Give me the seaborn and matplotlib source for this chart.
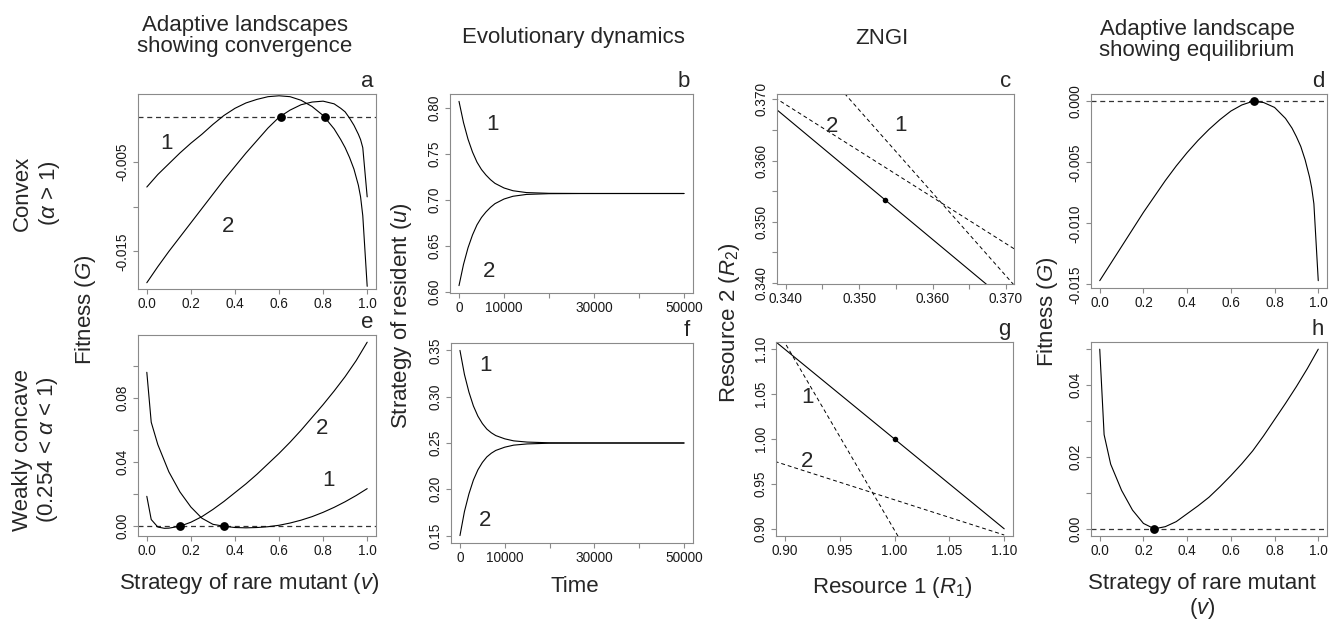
import matplotlib
matplotlib.use("Agg")
import matplotlib.pyplot as plt
import seaborn as sns

# ---------------- data ----------------
# Panel a: convex, adaptive landscapes (mutant strategy v vs fitness G)
a_v = [0.00, 0.05, 0.10, 0.15, 0.20, 0.25, 0.30, 0.35, 0.40, 0.45, 0.50, 0.55,
       0.60, 0.65, 0.70, 0.75, 0.80, 0.85, 0.88, 0.90, 0.92, 0.94, 0.96, 0.97,
       0.98, 1.00]
a_g1 = [-0.0078, -0.0064, -0.0052, -0.0040, -0.0029, -0.0019, -0.0008, 0.0002,
        0.0010, 0.0016, 0.0020, 0.0023, 0.0024, 0.0023, 0.0019, 0.0012, 0.0002,
        -0.0013, -0.0025, -0.0034, -0.0045, -0.0058, -0.0076, -0.0089, -0.0110,
        -0.0189]
a_g2 = [-0.0185, -0.0167, -0.0150, -0.0134, -0.0118, -0.0102, -0.0086, -0.0070,
        -0.0055, -0.0040, -0.0026, -0.0012, 0.0000, 0.0008, 0.0014, 0.0017, 0.0018,
        0.0015, 0.0010, 0.0006, -0.0001, -0.0009, -0.0019, -0.0025, -0.0034,
        -0.0089]
a_dots_v = [0.607, 0.807]
a_dots_g = [0.0, 0.0]

# Panels b and f: evolutionary dynamics (time vs resident strategy u)
t_steps = [0, 1000, 2000, 3000, 4000, 5000, 6000, 7000, 8000, 10000, 12000,
           15000, 20000, 30000, 50000]
b_u1 = [0.807, 0.784, 0.766, 0.752, 0.741, 0.733, 0.727, 0.722, 0.718, 0.713,
        0.710, 0.708, 0.7072, 0.707, 0.707]
b_u2 = [0.607, 0.630, 0.648, 0.662, 0.673, 0.681, 0.687, 0.692, 0.696, 0.701,
        0.704, 0.706, 0.7068, 0.707, 0.707]
f_u1 = [0.350, 0.324, 0.305, 0.290, 0.279, 0.271, 0.265, 0.261, 0.258, 0.2545,
        0.2523, 0.251, 0.2502, 0.250, 0.250]
f_u2 = [0.150, 0.176, 0.195, 0.210, 0.221, 0.229, 0.235, 0.239, 0.242, 0.2455,
        0.2477, 0.249, 0.2498, 0.250, 0.250]

# Panel c: ZNGI, convex case (R1 vs R2)
c_solid_r1 = [0.3380, 0.3700]
c_solid_r2 = [0.3691, 0.3371]
c_zngi1_r1 = [0.3480, 0.3712]
c_zngi1_r2 = [0.3710, 0.3395]
c_zngi2_r1 = [0.3385, 0.3712]
c_zngi2_r2 = [0.3703, 0.3455]
c_dot_r1 = [0.3535]
c_dot_r2 = [0.3535]

# Panel d: adaptive landscape at equilibrium, convex case
d_v = [0.00, 0.05, 0.10, 0.15, 0.20, 0.25, 0.30, 0.35, 0.40, 0.45, 0.50, 0.55,
       0.60, 0.65, 0.70, 0.75, 0.80, 0.85, 0.88, 0.90, 0.92, 0.94, 0.96, 0.97,
       0.98, 1.00]
d_g = [-0.0147, -0.0133, -0.0119, -0.0105, -0.0091, -0.0078, -0.0065, -0.0053,
       -0.0042, -0.0032, -0.0023, -0.0015, -0.0008, -0.0003, 0.0000, -0.0001,
       -0.0005, -0.0014, -0.0022, -0.0029, -0.0037, -0.0048, -0.0062, -0.0071,
       -0.0084, -0.0147]
d_dot_v = [0.707]
d_dot_g = [0.0]

# Panel e: weakly concave, adaptive landscapes
e_v1 = [0.00, 0.02, 0.05, 0.10, 0.15, 0.20, 0.25, 0.30, 0.35, 0.40, 0.45, 0.50,
        0.55, 0.60, 0.65, 0.70, 0.75, 0.80, 0.85, 0.90, 0.95, 1.00]
e_g1 = [0.0962, 0.0650, 0.0510, 0.0340, 0.0215, 0.0120, 0.0050, 0.0012, 0.0000,
        -0.0008, -0.0010, -0.0008, -0.0003, 0.0006, 0.0020, 0.0038, 0.0060,
        0.0087, 0.0118, 0.0153, 0.0192, 0.0235]
e_v2 = [0.00, 0.02, 0.05, 0.08, 0.10, 0.15, 0.20, 0.25, 0.30, 0.35, 0.40, 0.45,
        0.50, 0.55, 0.60, 0.65, 0.70, 0.75, 0.80, 0.85, 0.90, 0.95, 1.00]
e_g2 = [0.0187, 0.0042, -0.0005, -0.0013, -0.0012, 0.0000, 0.0025, 0.0060,
        0.0105, 0.0155, 0.0210, 0.0265, 0.0325, 0.0390, 0.0455, 0.0525, 0.0600,
        0.0680, 0.0760, 0.0845, 0.0935, 0.1035, 0.1150]
e_dots_v = [0.15, 0.35]
e_dots_g = [0.0, 0.0]

# Panel g: ZNGI, weakly concave case
g_solid_r1 = [0.88, 1.10]
g_solid_r2 = [1.12, 0.90]
g_zngi1_r1 = [0.895, 1.005]
g_zngi1_r2 = [1.1178, 0.8880]
g_zngi2_r1 = [0.885, 1.100]
g_zngi2_r2 = [0.9774, 0.8931]
g_dot_r1 = [1.00]
g_dot_r2 = [1.00]

# Panel h: adaptive landscape at equilibrium, weakly concave case
h_v = [0.00, 0.02, 0.05, 0.10, 0.15, 0.20, 0.25, 0.30, 0.35, 0.40, 0.45, 0.50,
       0.55, 0.60, 0.65, 0.70, 0.75, 0.80, 0.85, 0.90, 0.95, 1.00]
h_g = [0.0500, 0.0262, 0.0180, 0.0107, 0.0052, 0.0015, 0.0000, 0.0006, 0.0020,
       0.0042, 0.0064, 0.0088, 0.0117, 0.0148, 0.0181, 0.0217, 0.0259, 0.0304,
       0.0349, 0.0396, 0.0446, 0.0500]
h_dot_v = [0.25]
h_dot_g = [0.0]

zero_level = 0.0

# ---------------- style ----------------
sns.set_theme(style="ticks")
plt.rcParams['font.family'] = ['Liberation Sans', 'DejaVu Sans']
plt.rcParams['mathtext.fontset'] = 'custom'
plt.rcParams['mathtext.rm'] = 'Liberation Sans'
plt.rcParams['mathtext.it'] = 'Liberation Sans:italic'
plt.rcParams['mathtext.bf'] = 'Liberation Sans:bold'

W, H = 1339, 621
fig = plt.figure(figsize=(W / 100, H / 100), dpi=100)
fig.patch.set_facecolor('white')

SPINE = '#8a8a8a'
LW = 0.8
FS_BIG = 16
FS_TICK = 9.8


def add_ax(l, t, r, b):
    return fig.add_axes([l / W, 1 - b / H, (r - l) / W, (b - t) / H])


def style(ax, xlim, ylim, xt, xtl, yt, ytl, letter):
    ax.set_xlim(*xlim)
    ax.set_ylim(*ylim)
    ax.set_xticks(xt)
    ax.set_xticklabels(xtl)
    ax.set_yticks(yt)
    ax.set_yticklabels(ytl, rotation=90, va='center')
    for s in ax.spines.values():
        s.set_visible(True)
        s.set_color(SPINE)
        s.set_linewidth(0.8)
    ax.tick_params(direction='out', length=3.5, width=0.8, color=SPINE,
                   labelsize=FS_TICK, labelcolor='#1a1a1a', pad=2.5)
    ax.set_xlabel('')
    ax.set_ylabel('')
    ax.grid(False)
    ax.set_facecolor('white')
    ax.annotate(letter, xy=(1, 1), xycoords='axes fraction', xytext=(-2, 5),
                textcoords='offset points', ha='right', va='baseline',
                fontsize=FS_BIG)


def curve(ax, x, y, dashed=False, lw=LW):
    kw = dict(color='black', lw=lw, estimator=None, sort=False, ax=ax)
    if dashed:
        kw['linestyle'] = (0, (4, 3))
    sns.lineplot(x=x, y=y, **kw)


def dots(ax, x, y, s):
    sns.scatterplot(x=x, y=y, ax=ax, color='black', s=s, edgecolor='black',
                    linewidth=0, zorder=5)


def zero(ax):
    ax.axhline(zero_level, color='#333333', lw=0.9, linestyle=(0, (4, 3)),
               zorder=1)


def lab(ax, x, y, s):
    ax.text(x, y, s, ha='center', va='center', fontsize=FS_BIG)


v_ticks = [0.0, 0.2, 0.4, 0.6, 0.8, 1.0]
v_tl = ['0.0', '0.2', '0.4', '0.6', '0.8', '1.0']
t_ticks = [0, 10000, 20000, 30000, 40000, 50000]
t_tl = ['0', '10000', '', '30000', '', '50000']

# ---- a ----
ax = add_ax(138, 94, 376, 289)
zero(ax)
curve(ax, a_v, a_g1)
curve(ax, a_v, a_g2)
dots(ax, a_dots_v, a_dots_g, 40)
lab(ax, 0.09, -0.0029, '1')
lab(ax, 0.367, -0.0122, '2')
style(ax, (-0.04, 1.04), (-0.0192, 0.0026), v_ticks, v_tl,
      [-0.015, -0.010, -0.005], ['-0.015', '', '-0.005'], 'a')

# ---- b ----
ax = add_ax(450, 94, 693, 293)
curve(ax, t_steps, b_u1)
curve(ax, t_steps, b_u2)
lab(ax, 7500, 0.782, '1')
lab(ax, 6700, 0.622, '2')
style(ax, (-2000, 52000), (0.599, 0.815), t_ticks, t_tl,
      [0.60, 0.65, 0.70, 0.75, 0.80], ['0.60', '0.65', '0.70', '0.75', '0.80'], 'b')

# ---- c ----
ax = add_ax(777, 94, 1014, 284)
curve(ax, c_solid_r1, c_solid_r2)
curve(ax, c_zngi1_r1, c_zngi1_r2, dashed=True, lw=0.7)
curve(ax, c_zngi2_r1, c_zngi2_r2, dashed=True, lw=0.7)
dots(ax, c_dot_r1, c_dot_r2, 16)
lab(ax, 0.3463, 0.3656, '2')
lab(ax, 0.3556, 0.3657, '1')
zt = [0.340, 0.345, 0.350, 0.355, 0.360, 0.365, 0.370]
ztl = ['0.340', '', '0.350', '', '0.360', '', '0.370']
style(ax, (0.3388, 0.3711), (0.3398, 0.3709), zt, ztl, zt, ztl, 'c')

# ---- d ----
ax = add_ax(1091, 94, 1327, 288)
zero(ax)
curve(ax, d_v, d_g)
dots(ax, d_dot_v, d_dot_g, 40)
style(ax, (-0.04, 1.04), (-0.0153, 0.0006), v_ticks, v_tl,
      [-0.015, -0.010, -0.005, 0.000], ['-0.015', '-0.010', '-0.005', '0.000'], 'd')

# ---- e ----
ax = add_ax(138, 335, 376, 536)
zero(ax)
curve(ax, e_v1, e_g1)
curve(ax, e_v2, e_g2)
dots(ax, e_dots_v, e_dots_g, 40)
lab(ax, 0.795, 0.061, '2')
lab(ax, 0.825, 0.0287, '1')
style(ax, (-0.04, 1.04), (-0.0061, 0.1195), v_ticks, v_tl,
      [0.00, 0.02, 0.04, 0.06, 0.08, 0.10], ['0.00', '', '0.04', '', '0.08', ''], 'e')

# ---- f ----
ax = add_ax(451, 343, 693, 543)
curve(ax, t_steps, f_u1)
curve(ax, t_steps, f_u2)
lab(ax, 5600, 0.334, '1')
lab(ax, 5600, 0.166, '2')
style(ax, (-2000, 52000), (0.142, 0.358), t_ticks, t_tl,
      [0.15, 0.20, 0.25, 0.30, 0.35], ['0.15', '0.20', '0.25', '0.30', '0.35'], 'f')

# ---- g ----
ax = add_ax(776, 342, 1013, 536)
curve(ax, g_solid_r1, g_solid_r2)
curve(ax, g_zngi1_r1, g_zngi1_r2, dashed=True, lw=0.7)
curve(ax, g_zngi2_r1, g_zngi2_r2, dashed=True, lw=0.7)
dots(ax, g_dot_r1, g_dot_r2, 16)
lab(ax, 0.9205, 1.0467, '1')
lab(ax, 0.9205, 0.9754, '2')
gt = [0.90, 0.95, 1.00, 1.05, 1.10]
gtl = ['0.90', '0.95', '1.00', '1.05', '1.10']
style(ax, (0.892, 1.108), (0.892, 1.108), gt, gtl, gt, gtl, 'g')

# ---- h ----
ax = add_ax(1091, 342, 1327, 536)
zero(ax)
curve(ax, h_v, h_g)
dots(ax, h_dot_v, h_dot_g, 40)
style(ax, (-0.04, 1.04), (-0.002, 0.052), v_ticks, v_tl,
      [0.00, 0.01, 0.02, 0.03, 0.04, 0.05], ['0.00', '', '0.02', '', '0.04', ''], 'h')

# ---------------- figure texts ----------------
def ftext(x, y, s, **kw):
    fig.text(x / W, 1 - y / H, s, ha='center', va='center', fontsize=FS_BIG, **kw)

ftext(245, 36, 'Adaptive landscapes\nshowing convergence', linespacing=1.05)
ftext(573, 38, 'Evolutionary dynamics')
ftext(882, 38, 'ZNGI')
ftext(1197, 40, 'Adaptive landscape\nshowing equilibrium', linespacing=1.05)

ftext(37, 193, 'Convex\n($\\alpha$ > 1)', rotation=90, linespacing=1.2)
ftext(36, 450, 'Weakly concave\n(0.254 < $\\alpha$ < 1)', rotation=90, linespacing=1.1)

ftext(86, 310, 'Fitness ($G$)', rotation=90)
ftext(402, 316, 'Strategy of resident ($u$)', rotation=90)
ftext(730, 323, 'Resource 2 ($R_2$)', rotation=90)
ftext(1048, 312, 'Fitness ($G$)', rotation=90)

ftext(249, 583, 'Strategy of rare mutant ($v$)')
ftext(575, 587, 'Time')
ftext(892, 587, 'Resource 1 ($R_1$)')
ftext(1202, 597, 'Strategy of rare mutant\n($v$)', linespacing=1.1)

fig.savefig('out.png', dpi=100, facecolor='white')
